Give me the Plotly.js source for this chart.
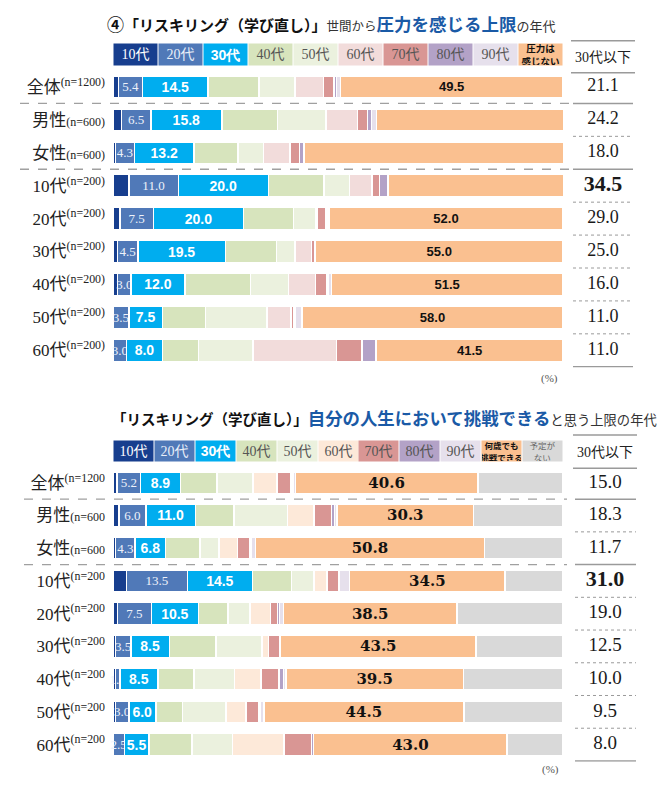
<!DOCTYPE html>
<html><head><meta charset="utf-8">
<script src="https://cdn.plot.ly/plotly-3.0.1.min.js"></script>
<style>html,body{margin:0;padding:0;background:#fff}</style>
</head><body><div id="chart" style="width:670px;height:790px"></div>
<script>
// ---------------- DATA ----------------
const categories = ['全体','男性','女性','10代','20代','30代','40代','50代','60代'];
const topTickLabels = ['全体<sup>(n=1200)</sup>','男性<span style="font-size:12px">(n=600)</span>','女性<span style="font-size:12px">(n=600)</span>',
  '10代<sup>(n=200)</sup>','20代<sup>(n=200)</sup>','30代<sup>(n=200)</sup>','40代<sup>(n=200)</sup>','50代<sup>(n=200)</sup>','60代<sup>(n=200)</sup>'];
const botTickLabels = ['全体<sup>(n=1200</sup>','男性<span style="font-size:12px">(n=600</span>','女性<span style="font-size:12px">(n=600</span>',
  '10代<sup>(n=200</sup>','20代<sup>(n=200</sup>','30代<sup>(n=200</sup>','40代<sup>(n=200</sup>','50代<sup>(n=200</sup>','60代<sup>(n=200</sup>'];

const topTitle = '④「リスキリング（学び直し）」';
const topTitleSub1 = '世間から';
const topTitleMain = '圧力を感じる上限';
const topTitleSub2 = 'の年代';
const botTitle = '「リスキリング（学び直し）」';
const botTitleMain = '自分の人生において挑戦できる';
const botTitleSub = 'と思う上限の年代';
const headerLabel = '30代以下';
const unitLabel = '(%)';

// Top chart: 世間から圧力を感じる上限の年代
const topNames = ['10代','20代','30代','40代','50代','60代','70代','80代','90代','圧力は<br>感じない'];
const top10 = [1.2, 1.9, 0.5, 3.5, 1.5, 1.0, 1.0, 0.0, 0.0];
const top20 = [5.4, 6.5, 4.3, 11.0, 7.5, 4.5, 3.0, 3.5, 3.0];
const top30 = [14.5, 15.8, 13.2, 20.0, 20.0, 19.5, 12.0, 7.5, 8.0];
const top40 = [11.3, 12.4, 9.8, 12.4, 11.1, 11.3, 14.5, 9.6, 8.0];
const top50 = [8.0, 10.7, 5.6, 5.6, 5.0, 4.1, 8.5, 13.6, 12.1];
const top60 = [6.4, 7.0, 5.9, 5.0, 0.3, 3.7, 6.0, 5.3, 18.6];
const top70 = [2.3, 2.3, 2.1, 1.7, 1.9, 0.7, 2.5, 0.7, 5.6];
const top80 = [0.6, 0.8, 1.0, 1.9, 0.2, 0.0, 0.3, 0.3, 3.0];
const top90 = [0.8, 1.2, 0.2, 0.0, 0.5, 0.2, 0.7, 1.5, 0.2];
const topNone = [49.5, 41.5, 57.5, 39.0, 52.0, 55.0, 51.5, 58.0, 41.5];
const topUnder30 = [21.1, 24.2, 18.0, 34.5, 29.0, 25.0, 16.0, 11.0, 11.0];

// Bottom chart: 自分の人生において挑戦できると思う上限の年代
const botNames = ['10代','20代','30代','40代','50代','60代','70代','80代','90代','何歳でも<br>挑戦できる','予定が<br>ない'];
const bot10 = [0.9, 1.3, 0.6, 3.0, 1.0, 0.5, 0.5, 0.5, 0.0];
const bot20 = [5.2, 6.0, 4.3, 13.5, 7.5, 3.5, 1.0, 3.0, 2.5];
const bot30 = [8.9, 11.0, 6.8, 14.5, 10.5, 8.5, 8.5, 6.0, 5.5];
const bot40 = [8.1, 8.6, 7.6, 8.7, 6.5, 10.4, 8.0, 5.9, 9.5];
const bot50 = [8.0, 11.9, 4.2, 5.0, 4.9, 10.2, 9.0, 9.7, 9.0];
const bot60 = [5.3, 5.9, 4.2, 2.8, 4.6, 1.5, 5.9, 4.4, 11.5];
const bot70 = [3.1, 3.9, 2.7, 2.7, 1.5, 2.4, 4.0, 2.9, 6.1];
const bot80 = [0.5, 0.6, 0.3, 0.0, 0.5, 0.1, 1.0, 0.3, 0.5];
const bot90 = [0.5, 0.6, 1.0, 2.4, 0.9, 0.1, 0.5, 0.8, 0.0];
const botAny = [40.6, 30.3, 50.8, 34.5, 38.5, 43.5, 39.5, 44.5, 43.0];
const botNoPlan = [18.9, 19.9, 17.5, 12.9, 23.6, 19.3, 22.1, 22.0, 12.4];
const botUnder30 = [15.0, 18.3, 11.7, 31.0, 19.0, 12.5, 10.0, 9.5, 8.0];

const highlightRow = '10代';

// ---------------- STYLE ----------------
const W = 670, H = 790;
const px = x => x / W;
const py = y => 1 - y / H;
const SERIF = '"Liberation Serif", "Noto Sans CJK JP", serif';
const SANS = '"Noto Sans CJK JP", "Liberation Sans", sans-serif';
const ARIAL = '"Liberation Sans", Arial, sans-serif';
const DSERIF = '"DejaVu Serif", "Liberation Serif", serif';

const topColors = ['#173e8e','#5079b8','#00adef','#d7e4bd','#ebf1de','#f2dcdb','#d99694','#b3a2c7','#e6e0ec','#fac090'];
const botColors = ['#173e8e','#5079b8','#00adef','#d7e4bd','#ebf1de','#fde9d9','#d99694','#b3a2c7','#e6e0ec','#fac090','#d9d9d9'];

const lblBlue = {family: SERIF, size: 13, color: '#eef2fa'};
const lblCyan = {family: ARIAL, size: 14, color: '#ffffff', weight: 'bold'};
const lblTopOrange = {family: ARIAL, size: 13, color: '#111', weight: 'bold'};
const lblBotOrange = {family: DSERIF, size: 15, color: '#111', weight: 'bold'};

function barTrace(values, name, color, xa, ya, label) {
  const t = {
    type: 'bar', orientation: 'h', name: name.replace('<br>',''),
    x: values, y: categories, xaxis: xa, yaxis: ya,
    marker: {color: color, line: {color: '#ffffff', width: 1.5}},
    hoverinfo: 'skip', cliponaxis: false
  };
  if (label) {
    t.text = values.map(v => v.toFixed(1));
    t.textposition = 'inside';
    t.insidetextanchor = 'middle';
    t.textangle = 0;
    t.constraintext = 'none';
    t.textfont = label;
  } else {
    t.textposition = 'none';
  }
  return t;
}

const topSeries = [top10, top20, top30, top40, top50, top60, top70, top80, top90, topNone];
const botSeries = [bot10, bot20, bot30, bot40, bot50, bot60, bot70, bot80, bot90, botAny, botNoPlan];
const topLabelStyles = [null, lblBlue, lblCyan, null, null, null, null, null, null, lblTopOrange];
const botLabelStyles = [null, lblBlue, lblCyan, null, null, null, null, null, null, lblBotOrange, null];

const traces = [];
topSeries.forEach((s, i) => traces.push(barTrace(s, topNames[i], topColors[i], 'x', 'y', topLabelStyles[i])));
botSeries.forEach((s, i) => traces.push(barTrace(s, botNames[i], botColors[i], 'x2', 'y2', botLabelStyles[i])));

function colTrace(values, xa, ya, normalSize, boldSize) {
  return {
    type: 'scatter', mode: 'text', xaxis: xa, yaxis: ya,
    x: categories.map(() => 0.5), y: categories,
    text: values.map((v, i) => categories[i] === highlightRow ? '<b>' + v.toFixed(1) + '</b>' : v.toFixed(1)),
    textposition: 'middle center',
    textfont: {family: SERIF, color: '#1a1a1a', size: categories.map(c => c === highlightRow ? boldSize : normalSize)},
    hoverinfo: 'skip', cliponaxis: false
  };
}
traces.push(colTrace(topUnder30, 'x3', 'y', 18, 22));
traces.push(colTrace(botUnder30, 'x4', 'y2', 19, 22));

// ---------------- LAYOUT ----------------
const barDomain = [px(113), px(563)];
const colDomainTop = [px(573), px(633)];
const colDomainBot = [px(574), px(636)];
const hiddenX = {range: [0, 100], showgrid: false, zeroline: false, showticklabels: false, showline: false, ticks: '', fixedrange: true};
const tickFont = {family: SERIF, size: 17, color: '#222'};
function yAxis(domain, anchor, ticktext) {
  return {domain: domain, anchor: anchor, type: 'category', autorange: 'reversed',
    showgrid: false, zeroline: false, showline: false, ticks: '',
    tickmode: 'array', tickvals: categories, ticktext: ticktext,
    tickfont: tickFont, ticklabelstandoff: 7, fixedrange: true};
}

const shapes = [];
// dashed separators
[0.5, 2.5].forEach(v => {
  shapes.push({type: 'line', xref: 'paper', yref: 'y', x0: px(20), x1: px(569), y0: v, y1: v, line: {color: '#a0a0a0', width: 1.3, dash: 'dash'}});
  shapes.push({type: 'line', xref: 'paper', yref: 'y2', x0: px(24), x1: px(567), y0: v, y1: v, line: {color: '#a0a0a0', width: 1.3, dash: 'dash'}});
});
// right column lines
categories.forEach((c, k) => {
  const v = k + 0.5;
  const solid = (k === 0 || k === 2 || k === categories.length - 1);
  const ln = solid ? {color: '#9a9a9a', width: 1.5} : {color: '#9a9a9a', width: 1, dash: 'dot'};
  shapes.push({type: 'line', xref: 'paper', yref: 'y', x0: px(573), x1: px(633), y0: v, y1: v, line: ln});
  shapes.push({type: 'line', xref: 'paper', yref: 'y2', x0: px(575), x1: px(636), y0: v, y1: v, line: ln});
});
// header lines
[[40.7, 571, 635], [72.7, 571, 635], [435, 573, 637], [468.3, 573, 637]].forEach(a => {
  shapes.push({type: 'line', xref: 'paper', yref: 'paper', x0: px(a[1]), x1: px(a[2]), y0: py(a[0]), y1: py(a[0]), line: {color: '#9a9a9a', width: 1.5}});
});

const annotations = [];
// titles
annotations.push({xref: 'paper', yref: 'paper', x: px(105), y: py(23), xanchor: 'left', yanchor: 'middle', showarrow: false,
  font: {family: SANS, size: 15, color: '#111'},
  text: '<b><span style="font-size:17px">' + topTitle.charAt(0) + '</span>' + topTitle.slice(1) + '</b><span style="font-size:12.5px;color:#333">' + topTitleSub1 + '</span><b><span style="font-size:17.5px;color:#1a5aa6">' + topTitleMain + '</span></b><span style="font-size:13px;color:#333">' + topTitleSub2 + '</span>'});
annotations.push({xref: 'paper', yref: 'paper', x: px(110), y: py(417), xanchor: 'left', yanchor: 'middle', showarrow: false,
  font: {family: SANS, size: 14.5, color: '#111'},
  text: '<b>' + botTitle + '</b><b><span style="font-size:17.4px;color:#1a5aa6">' + botTitleMain + '</span></b><span style="font-size:13.3px;color:#333">' + botTitleSub + '</span>'});

// legend boxes
function legendFont(i) {
  if (i === 0) return {family: SERIF, size: 14, color: '#ffffff'};
  if (i === 1) return {family: SERIF, size: 14, color: '#e8eef8'};
  if (i === 2) return {family: ARIAL, size: 14, color: '#ffffff', weight: 'bold'};
  return {family: SERIF, size: 14, color: '#555'};
}
topNames.forEach((nm, i) => {
  let f = legendFont(i), txt = nm;
  if (i === 2) txt = '<b>' + nm + '</b>';
  if (i === 9) { f = {family: SANS, size: 9.5, color: '#111'}; txt = '<b>' + nm + '</b>'; }
  annotations.push({xref: 'x', yref: 'paper', x: (i + 0.5) * 100 / topNames.length, y: py(54), xanchor: 'center', yanchor: 'middle',
    showarrow: false, text: txt, font: f, bgcolor: topColors[i], width: 43, height: 21, borderpad: 0, align: 'center'});
});
botNames.forEach((nm, i) => {
  let f = legendFont(i), txt = nm;
  if (i === 2) txt = '<b>' + nm + '</b>';
  if (i === 9) { f = {family: SANS, size: 8.5, color: '#111'}; txt = '<b>' + nm + '</b>'; }
  if (i === 10) { f = {family: SANS, size: 8.5, color: '#666'}; }
  annotations.push({xref: 'x2', yref: 'paper', x: (i + 0.5) * 100 / botNames.length, y: py(450.7), xanchor: 'center', yanchor: 'middle',
    showarrow: false, text: txt, font: f, bgcolor: botColors[i], width: 39, height: 20, borderpad: 0, align: 'center'});
});
// header labels
annotations.push({xref: 'paper', yref: 'paper', x: px(603), y: py(58), xanchor: 'center', yanchor: 'middle', showarrow: false, text: headerLabel, font: {family: SERIF, size: 14, color: '#222'}});
annotations.push({xref: 'paper', yref: 'paper', x: px(605), y: py(453), xanchor: 'center', yanchor: 'middle', showarrow: false, text: headerLabel, font: {family: SERIF, size: 14, color: '#222'}});
// unit
annotations.push({xref: 'paper', yref: 'paper', x: px(549), y: py(378), xanchor: 'center', yanchor: 'middle', showarrow: false, text: unitLabel, font: {family: SERIF, size: 11, color: '#555'}});
annotations.push({xref: 'paper', yref: 'paper', x: px(550), y: py(769), xanchor: 'center', yanchor: 'middle', showarrow: false, text: unitLabel, font: {family: SERIF, size: 11, color: '#555'}});

const layout = {
  width: W, height: H, margin: {l: 0, r: 0, t: 0, b: 0},
  paper_bgcolor: '#ffffff', plot_bgcolor: '#ffffff',
  showlegend: false, barmode: 'stack', bargap: 0.33,
  xaxis: Object.assign({}, hiddenX, {domain: barDomain, anchor: 'y'}),
  yaxis: yAxis([py(367.5), py(70.5)], 'x', topTickLabels),
  xaxis2: Object.assign({}, hiddenX, {domain: barDomain, anchor: 'y2'}),
  yaxis2: yAxis([py(761.7), py(466.4)], 'x2', botTickLabels),
  xaxis3: Object.assign({}, hiddenX, {domain: colDomainTop, anchor: 'y', range: [0, 1]}),
  xaxis4: Object.assign({}, hiddenX, {domain: colDomainBot, anchor: 'y2', range: [0, 1]}),
  shapes: shapes, annotations: annotations,
  font: {family: SERIF}
};

Plotly.newPlot('chart', traces, layout, {staticPlot: true, displayModeBar: false});
</script></body></html>
